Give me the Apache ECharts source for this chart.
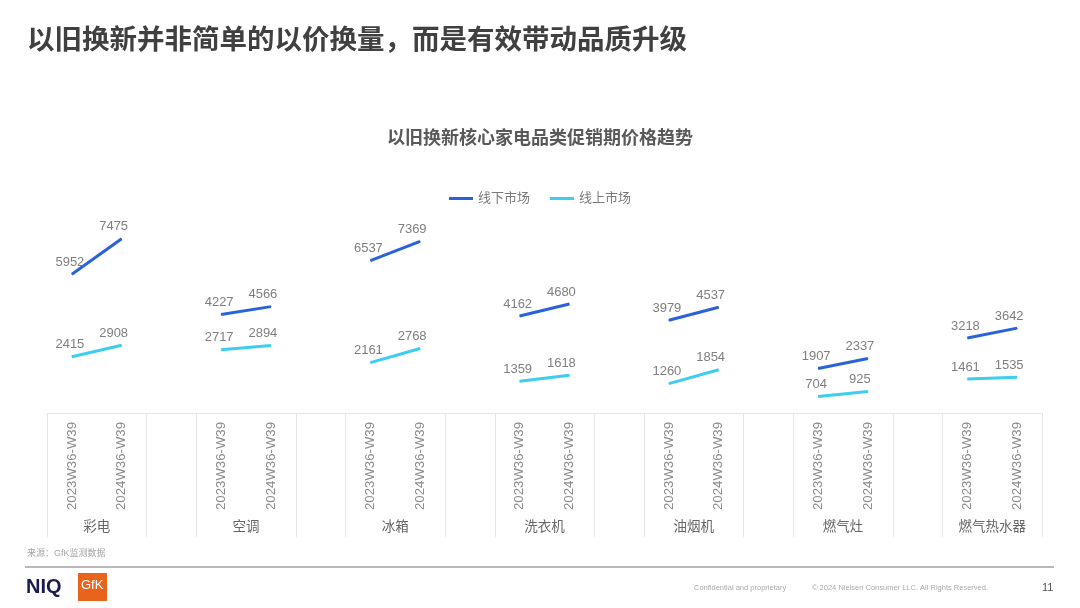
<!DOCTYPE html>
<html><head><meta charset="utf-8">
<script src="https://cdn.jsdelivr.net/npm/echarts@6/dist/echarts.min.js"></script>
<style>html,body{margin:0;padding:0;background:#fff}#c{width:1080px;height:608px}</style>
</head><body><div id="c"></div>
<script>
const categories = ['彩电','空调','冰箱','洗衣机','油烟机','燃气灶','燃气热水器'];
const periods = ['2023W36-W39','2024W36-W39'];
const offline = [[5952,7475],[4227,4566],[6537,7369],[4162,4680],[3979,4537],[1907,2337],[3218,3642]];
const online  = [[2415,2908],[2717,2894],[2161,2768],[1359,1618],[1260,1854],[704,925],[1461,1535]];
const seriesNames = ['线下市场','线上市场'];

const FONT = "'Liberation Sans','Noto Sans CJK SC',sans-serif";
const slots = [];
categories.forEach((c,i)=>{ slots.push(periods[0], periods[1]); if(i<categories.length-1) slots.push(''); });
function build(arr){
  const out=[];
  arr.forEach((p,i)=>{
    out.push({value:p[0], label:{offset:[-2,0]}});
    out.push({value:p[1], label:{offset:[-8,0]}});
    if(i<arr.length-1) out.push(null);
  });
  return out;
}
const chart = echarts.init(document.getElementById('c'));
const lbl = {show:true, position:'top', distance:5, color:'#7f7f7f', fontSize:13, fontFamily:FONT};
chart.setOption({
  backgroundColor:'#fff',
  animation:false,
  title:{text:'以旧换新核心家电品类促销期价格趋势', left:'center', top:125,
    textStyle:{fontSize:18, fontWeight:'bold', color:'#595959', fontFamily:FONT}},
  legend:{top:187, left:'center', itemWidth:24, itemHeight:3, itemGap:20, icon:'rect',
    textStyle:{color:'#7a7a7a', fontSize:13, fontFamily:FONT}, data:seriesNames},
  grid:[{left:47,right:38,top:180,bottom:195},{left:47,right:38,top:413,bottom:71}],
  xAxis:[
    {type:'category', gridIndex:0, data:slots, boundaryGap:true,
     axisLine:{show:true, lineStyle:{color:'#e6e6e6', width:1}}, axisTick:{show:false},
     axisLabel:{interval:0, rotate:90, margin:9, color:'#8c8c8c', fontSize:13.2, fontFamily:FONT},
     splitLine:{show:false}},
    {type:'value', gridIndex:1, min:0, max:slots.length, interval:1,
     axisLine:{show:false}, axisTick:{show:false},
     axisLabel:{inside:true, margin:3, color:'#666', fontSize:13.5, fontFamily:FONT,
       formatter:v=> (v%3===1 ? categories[(v-1)/3] : '')},
     splitLine:{show:true, lineStyle:{color:['#e6e6e6','rgba(0,0,0,0)','#e6e6e6'], width:1}}}
  ],
  yAxis:[
    {type:'value', gridIndex:0, min:0, max:10000, show:false},
    {type:'value', gridIndex:1, min:0, max:1, show:false}
  ],
  series:[
    {name:seriesNames[0], type:'line', xAxisIndex:0, yAxisIndex:0, data:build(offline),
     connectNulls:false, symbol:'circle', symbolSize:1, showSymbol:true,
     lineStyle:{color:'#2b62d9', width:3}, itemStyle:{color:'#2b62d9'}, label:lbl},
    {name:seriesNames[1], type:'line', xAxisIndex:0, yAxisIndex:0, data:build(online),
     connectNulls:false, symbol:'circle', symbolSize:1, showSymbol:true,
     lineStyle:{color:'#3ccdf0', width:3}, itemStyle:{color:'#3ccdf0'}, label:lbl}
  ],
  graphic:[
    {type:'text', left:27, top:28, style:{text:'以旧换新并非简单的以价换量，而是有效带动品质升级', fontSize:27.5, fontWeight:'bold', fill:'#404040', fontFamily:FONT}},
    {type:'text', left:27, top:549, style:{text:'来源：GfK监测数据', fontSize:9, fill:'#a6a6a6', fontFamily:FONT}},
    {type:'line', shape:{x1:25,y1:567,x2:1054,y2:567}, style:{stroke:'#a0a0a0', lineWidth:1.5}},
    {type:'text', left:26, top:577, style:{text:'NIQ', fontSize:20, fontWeight:'900', fill:'#1b1b4d', fontFamily:"'Liberation Sans',sans-serif"}},
    {type:'rect', shape:{x:78,y:573,width:29,height:28}, style:{fill:'#e8641b'}},
    {type:'text', left:81, top:579, style:{text:'GfK', fontSize:13, fill:'#fff', fontFamily:"'Liberation Sans',sans-serif"}},
    {type:'text', left:694, top:584, style:{text:'Confidential and proprietary', fontSize:7.5, fill:'#aaa', fontFamily:"'Liberation Sans',sans-serif"}},
    {type:'text', left:812, top:584, style:{text:'© 2024 Nielsen Consumer LLC. All Rights Reserved.', fontSize:7.5, fill:'#aaa', fontFamily:"'Liberation Sans',sans-serif"}},
    {type:'text', left:1042, top:582, style:{text:'11', fontSize:11, fill:'#555', fontFamily:"'Liberation Sans',sans-serif"}}
  ]
});
</script></body></html>
